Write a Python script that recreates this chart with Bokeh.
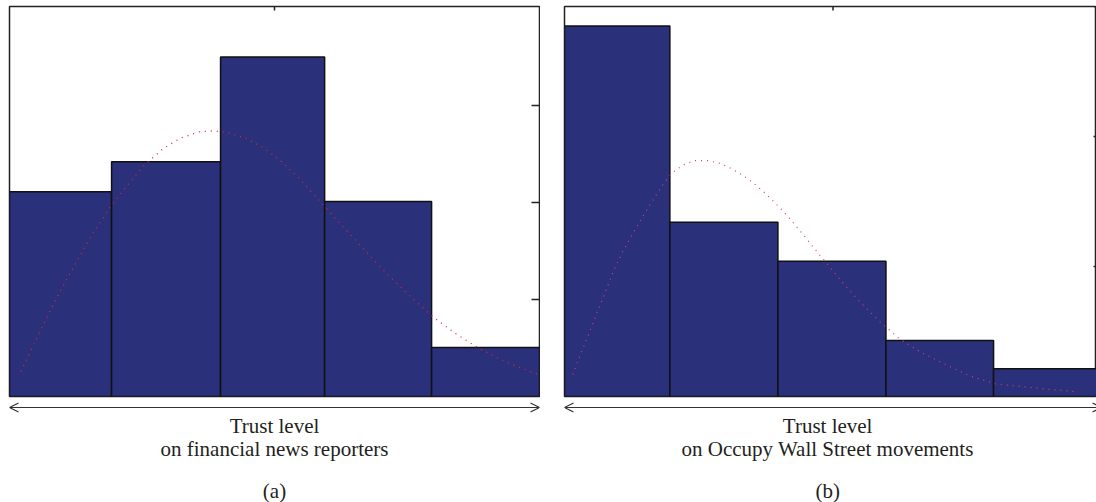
from bokeh.plotting import figure
from bokeh.models import Range1d, Arrow, OpenHead
from bokeh.layouts import column, row
from bokeh.embed import file_html
from bokeh.resources import INLINE
from bokeh.core.properties import value

# ---------------- data ----------------
# (a) trust level on financial news reporters
bin_edges_a = [0, 0.963, 1.991, 2.973, 3.982, 5]
freq_a = [2.11, 2.42, 3.50, 2.01, 0.505]
fit_x_a = [0.108, 0.214, 0.325, 0.466, 0.618, 0.774, 0.948, 1.102, 1.262, 1.451,
           1.612, 1.791, 1.921, 2.046, 2.226, 2.393, 2.544, 2.726, 2.937, 3.151,
           3.365, 3.583, 3.809, 3.998, 4.202, 4.416, 4.643, 4.879, 4.999]
fit_y_a = [0.258, 0.505, 0.753, 1.062, 1.361, 1.660, 1.948, 2.165, 2.374, 2.557,
           2.663, 2.729, 2.739, 2.725, 2.663, 2.567, 2.443, 2.258, 2.003, 1.745,
           1.492, 1.240, 1.003, 0.818, 0.653, 0.505, 0.374, 0.271, 0.224]
yticks_a = [1, 2, 3]

# (b) trust level on Occupy Wall Street movements
bin_edges_b = [0, 0.981, 1.987, 2.993, 3.995, 5]
freq_b = [2.85, 1.34, 1.04, 0.43, 0.213]
fit_x_b = [0.078, 0.121, 0.189, 0.257, 0.325, 0.394, 0.461, 0.542, 0.631, 0.724,
           0.821, 0.923, 1.000, 1.099, 1.214, 1.334, 1.455, 1.566, 1.671, 1.771,
           1.864, 1.954, 2.040, 2.121, 2.201, 2.279, 2.356, 2.436, 2.594, 2.758,
           2.934, 3.117, 3.328, 3.551, 3.773, 4.008, 4.253, 4.498, 4.745]
fit_y_b = [0.169, 0.264, 0.405, 0.546, 0.688, 0.833, 0.975, 1.113, 1.246, 1.379,
           1.508, 1.638, 1.718, 1.779, 1.815, 1.815, 1.792, 1.748, 1.695, 1.633,
           1.567, 1.495, 1.421, 1.346, 1.267, 1.187, 1.108, 1.031, 0.872, 0.721,
           0.577, 0.444, 0.336, 0.244, 0.159, 0.098, 0.077, 0.056, 0.038]
yticks_b = [1, 2, 3]

caption_a = ["Trust level", "on financial news reporters", "(a)"]
caption_b = ["Trust level", "on Occupy Wall Street movements", "(b)"]

# ---------------- style ----------------
BAR = "#2a3079"
EDGE = "#111111"
FRAME_COL = "#222222"
FONT = value("Liberation Serif")
TXT = "#231f20"
FRAME_H = 390
TOP = 6
CAP_H = 104
CAP_Y = [27, 50, 92]


def panel(edges, freq, fx, fy, yticks, x_end, y_end, fw, mbl, mbr, curve_color, curve_w):
    p = figure(output_backend="svg", toolbar_location=None,
               frame_width=fw, frame_height=FRAME_H,
               min_border_left=mbl, min_border_right=mbr,
               min_border_top=TOP, min_border_bottom=2,
               x_range=Range1d(0, x_end), y_range=Range1d(0, y_end),
               x_axis_location=None, y_axis_location=None,
               background_fill_color="white", border_fill_color="white")
    p.grid.visible = False
    p.outline_line_color = FRAME_COL
    p.outline_line_width = 1.5
    p.quad(left=edges[:-1], right=edges[1:], bottom=0, top=freq,
           fill_color=BAR, line_color=EDGE, line_width=1.5)
    p.line(fx, fy, line_color=curve_color, line_width=curve_w, line_dash="1 5")
    # inward tick marks on the right-hand border (at the histogram's right edge)
    p.scatter(x=[edges[-1]] * len(yticks), y=yticks, marker="dash", size=16,
              line_color=FRAME_COL, line_width=1.5)
    # single inward tick on the top border, mid-panel
    p.scatter(x=[(edges[0] + edges[-1]) / 2], y=[y_end], marker="dash", angle=1.5708,
              size=8, line_color=FRAME_COL, line_width=1.5)
    return p


def caption(xr, fw, mbl, mbr, lines, x_mid):
    c = figure(output_backend="svg", toolbar_location=None,
               frame_width=fw, frame_height=CAP_H,
               min_border_left=mbl, min_border_right=mbr,
               min_border_top=0, min_border_bottom=0,
               x_range=xr, y_range=Range1d(CAP_H, 0),
               x_axis_location=None, y_axis_location=None)
    c.grid.visible = False
    c.outline_line_color = None
    c.add_layout(Arrow(start=OpenHead(size=9, line_color="#333333", line_width=1.2),
                       end=OpenHead(size=9, line_color="#333333", line_width=1.2),
                       x_start=0, x_end=5, y_start=9, y_end=9,
                       line_color="#333333", line_width=1.2))
    c.text(x=[x_mid] * 3, y=CAP_Y, text=lines, text_align="center",
           text_baseline="alphabetic", text_font=FONT, text_font_size="21px",
           text_color=TXT)
    return c


pa = panel(bin_edges_a, freq_a, fit_x_a, fit_y_a, yticks_a, 5, FRAME_H / 97.0,
           530, 9, 1, "#e3203a", 1.3)
pb = panel(bin_edges_b, freq_b, fit_x_b, fit_y_b, yticks_b, 532 / 107.4, FRAME_H / 130.0,
           532, 24, 0, "#d83a86", 1.2)
ca = caption(pa.x_range, 530, 9, 1, caption_a, 2.5)
cb = caption(pb.x_range, 532, 24, 0, caption_b, 2.45)

layout = column(row(pa, pb), row(ca, cb))
open("out.html", "w").write(file_html(layout, INLINE))
